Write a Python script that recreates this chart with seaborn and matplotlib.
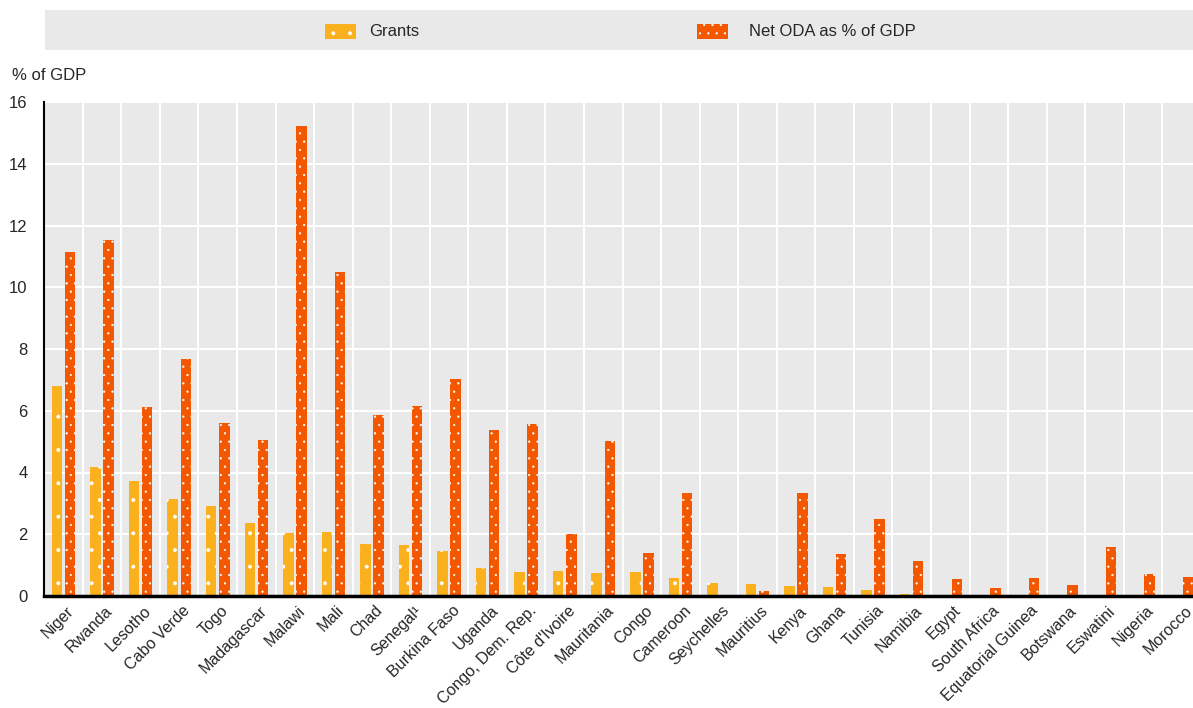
import pandas as pd
import matplotlib
matplotlib.use("Agg")
import matplotlib.pyplot as plt
import matplotlib.transforms as mtransforms
import seaborn as sns
from matplotlib.patches import Rectangle
from matplotlib.ticker import MultipleLocator, FixedLocator

# data (% of GDP)
countries = ["Niger", "Rwanda", "Lesotho", "Cabo Verde", "Togo", "Madagascar", "Malawi",
             "Mali", "Chad", "Senegal¹", "Burkina Faso", "Uganda", "Congo, Dem. Rep.",
             "Côte d'Ivoire", "Mauritania", "Congo", "Cameroon", "Seychelles", "Mauritius",
             "Kenya", "Ghana", "Tunisia", "Namibia", "Egypt", "South Africa",
             "Equatorial Guinea", "Botswana", "Eswatini", "Nigeria", "Morocco"]
grants = [6.80, 4.19, 3.72, 3.15, 2.90, 2.37, 2.03, 2.07, 1.68, 1.64, 1.45, 0.90, 0.77,
          0.80, 0.74, 0.77, 0.57, 0.41, 0.39, 0.31, 0.28, 0.21, 0.06, 0.02, 0.01,
          0, 0, 0, 0, 0]
net_oda = [11.15, 11.54, 6.12, 7.67, 5.61, 5.05, 15.23, 10.49, 5.87, 6.16, 7.04, 5.37, 5.58,
           2.00, 5.01, 1.40, 3.33, 0.0, 0.15, 3.33, 1.35, 2.49, 1.14, 0.55, 0.26,
           0.57, 0.36, 1.58, 0.71, 0.62]
series = ["Grants", "Net ODA as % of GDP"]
colors = ["#fbb01e", "#f35700"]
hatches = [".", ".."]

df = pd.DataFrame({"country": countries * 2,
                   "value": grants + net_oda,
                   "series": [series[0]] * len(countries) + [series[1]] * len(countries)})

sns.set_style("white")
plt.rcParams["font.family"] = ["Liberation Sans", "DejaVu Sans"]
plt.rcParams["hatch.color"] = "white"
plt.rcParams["hatch.linewidth"] = 0.4

fig = plt.figure(figsize=(11.93, 7.08), dpi=100)
ax = fig.add_axes([44.3 / 1193, 112 / 708, 1156.5 / 1193, 494 / 708])

sns.barplot(data=df, x="country", y="value", hue="series", palette=colors, saturation=1,
            width=0.68, gap=0.2, ax=ax, legend=False, edgecolor="white", linewidth=0)
for cont, h in zip(ax.containers, hatches):
    for bar in cont:
        bar.set_hatch(h)

ax.set_facecolor("#e9e9e9")
ax.set_xlim(-0.5, len(countries) - 0.5)
ax.set_ylim(0, 16)
ax.yaxis.set_major_locator(MultipleLocator(2))
ax.xaxis.set_minor_locator(FixedLocator([i - 0.5 for i in range(len(countries) + 1)]))
ax.grid(False)
ax.grid(axis="y", which="major", color="white", linewidth=1.5)
ax.grid(axis="x", which="minor", color="white", linewidth=1.5)
ax.set_axisbelow(True)

ax.set_xlabel("")
ax.set_ylabel("")
ax.tick_params(axis="x", which="major", length=0, pad=5, labelsize=11.5)
ax.tick_params(axis="x", which="minor", direction="in", length=5, width=1.5, color="black")
ax.tick_params(axis="y", direction="in", length=5, width=1.2, pad=12, labelsize=12)
shift = mtransforms.ScaledTranslation(3 / 100, 0, fig.dpi_scale_trans)
for lbl in ax.get_xticklabels():
    lbl.set_rotation(45)
    lbl.set_ha("right")
    lbl.set_rotation_mode("anchor")
    lbl.set_transform(lbl.get_transform() + shift)

for s in ["top", "right"]:
    ax.spines[s].set_visible(False)
ax.spines["left"].set_linewidth(1.5)
ax.spines["bottom"].set_linewidth(2.5)
ax.spines["left"].set_color("black")
ax.spines["bottom"].set_color("black")

fig.text(12 / 1193, (708 - 75) / 708, "% of GDP", fontsize=12, va="center", ha="left")

# legend band at the top
W, H = 1193, 708
fig.patches.append(Rectangle((45 / W, (H - 50) / H), 1148 / W, 40 / H,
                             transform=fig.transFigure, facecolor="#e9e9e9",
                             edgecolor="none", zorder=0))
legend_pos = [(325, 369), (697, 749)]
for (sx, tx), lab, c, h in zip(legend_pos, series, colors, hatches):
    fig.patches.append(Rectangle((sx / W, (H - 39) / H), 31 / W, 15 / H,
                                 transform=fig.transFigure, facecolor=c,
                                 edgecolor="white", linewidth=0, hatch=h, zorder=1))
    fig.text(tx / W, (H - 31) / H, lab, fontsize=12, va="center", ha="left")

fig.savefig("out.png", dpi=100)
